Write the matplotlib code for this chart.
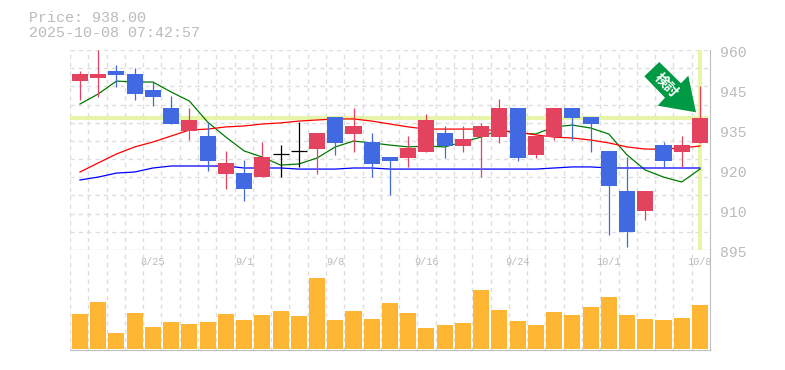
import numpy as np
import matplotlib
matplotlib.use("Agg")
import matplotlib.pyplot as plt
from matplotlib.patches import Polygon
from matplotlib.transforms import Affine2D

W, H = 785, 370
PRICE_TOP, PRICE_BOT = 960, 895

dates = ["8/25", "9/1", "9/8", "9/16", "9/24", "10/1", "10/8"]
date_idx = [4, 9, 14, 19, 24, 29, 34]
ytick_vals = [960, 947, 934, 921, 908, 895]
ytick_labels = ["960", "945", "935", "920", "910", "895"]

opens = [949.9, 950.9, 953.2, 952.2, 947.0, 941.15, 933.7, 932.05, 919.7, 920.0, 918.7, 926.1, 927.2,
         927.8, 938.2, 932.7, 930.1, 925.2, 924.9, 926.85, 933.0, 928.8, 931.7, 931.7, 941.15, 925.9,
         931.7, 941.15, 938.2, 927.2, 914.2, 907.7, 929.1, 926.85, 929.8]
closes = [952.2, 952.2, 951.9, 945.7, 944.7, 935.95, 937.25, 923.9, 923.3, 914.8, 925.2, 926.1, 927.2,
          933.0, 929.8, 935.3, 923.0, 923.9, 928.15, 937.25, 928.8, 931.1, 935.3, 941.15, 924.9, 932.05,
          941.15, 937.9, 935.95, 915.8, 900.85, 914.2, 923.9, 929.1, 938.0]
highs = [953.2, 960.0, 955.1, 954.2, 949.6, 945.05, 941.15, 936.3, 927.2, 924.25, 930.1, 929.1, 936.6,
         933.0, 938.2, 941.15, 933.0, 925.2, 932.05, 939.2, 935.3, 935.3, 936.3, 944.1, 941.15, 932.05,
         941.15, 941.15, 938.2, 927.2, 925.2, 914.2, 930.1, 932.05, 948.3]
lows = [943.75, 944.8, 948.1, 943.75, 941.8, 935.95, 930.75, 920.7, 914.8, 910.9, 918.7, 918.7, 922.0,
        919.7, 925.9, 926.85, 918.7, 912.9, 922.0, 926.85, 924.9, 926.85, 918.7, 929.8, 923.9, 924.9,
        930.75, 930.75, 926.85, 899.9, 896.0, 904.75, 922.0, 922.0, 929.8]
volumes = [35, 47, 16, 36, 22, 27, 25, 27, 35, 29, 34, 38, 33, 71, 29, 38, 30, 46, 36, 21, 24, 26,
           59, 39, 28, 24, 37, 34, 42, 52, 34, 30, 29, 31, 44]

ma_short = [942.45, 945.7, 949.9, 949.6, 949.6, 946.35, 943.4, 936.6, 931.7, 927.2, 925.2, 922.6, 922.95,
            924.9, 928.5, 930.4, 929.8, 929.1, 928.5, 928.8, 928.5, 930.1, 931.7, 934.0, 933.0, 932.7,
            935.0, 935.6, 934.65, 932.7, 925.9, 921.0, 918.7, 917.1, 921.3]
ma_mid = [920.35, 923.3, 926.2, 928.5, 930.1, 932.05, 934.0, 934.3, 935.0, 935.3, 935.95, 936.3, 936.9,
          937.25, 937.6, 937.6, 936.9, 935.95, 935.0, 934.3, 934.3, 934.3, 934.3, 933.7, 933.35, 932.4,
          931.7, 931.4, 930.75, 929.8, 928.5, 927.8, 927.8, 928.15, 928.8]
ma_long = [917.75, 918.7, 920.0, 920.35, 921.65, 922.3, 922.3, 922.3, 922.3, 921.65, 921.65, 921.65, 921.3,
           921.3, 921.3, 921.65, 921.65, 921.3, 921.3, 921.3, 921.3, 921.3, 921.3, 921.3, 921.3, 921.3,
           921.65, 922.0, 922.0, 921.65, 921.65, 921.65, 921.65, 921.65, 921.65]

RED = "#E4435F"
BLUE = "#4169E1"
GRID = "#DDDDDD"
AXIS = "#BEBEBE"
TEXT = "#BBBBBB"
MARK = "#E6F5A8"
MONO = "Liberation Mono"

fig = plt.figure(figsize=(W / 100, H / 100), dpi=100, facecolor="white")


def box(x0, y0, x1, y1):
    return [x0 / W, 1 - y1 / H, (x1 - x0) / W, (y1 - y0) / H]


ax = fig.add_axes(box(70, 50, 710, 250))
vax = fig.add_axes(box(70, 250, 710, 350))

xmin, xmax = -0.548, 34.55
xs = np.arange(len(opens))
grid_x = np.linspace(xmin, xmax, 36)

for a in (ax, vax):
    a.set_xlim(xmin, xmax)
    a.set_xticks(grid_x[:-1])
    a.tick_params(length=0, labelbottom=False, labelleft=False)
    a.grid(axis="x", color=GRID, lw=1, ls=(0, (3, 3)))
    a.set_axisbelow(True)
    for s in a.spines.values():
        s.set_visible(False)
    a.spines["right"].set_visible(True)
    a.spines["right"].set_color(AXIS)
    a.spines["bottom"].set_visible(True)
    a.spines["bottom"].set_color(AXIS)

ax.set_ylim(PRICE_BOT, PRICE_TOP)
ax.set_yticks(np.linspace(PRICE_BOT, PRICE_TOP, 12))
ax.grid(axis="y", color=GRID, lw=1, ls=(0, (3, 3)))

# current price cross
ax.plot([xmin, xs[-1] + 0.45], [938, 938], color=MARK, lw=3, zorder=1, solid_capstyle="butt")
ax.axvline(xs[-1], ymin=0.005, ymax=0.995, color=MARK, lw=3, zorder=1)

ax.plot(xs, ma_short, color="#007A00", lw=0.9, zorder=2)
ax.plot(xs, ma_mid, color="#FF0000", lw=0.9, zorder=2)
ax.plot(xs, ma_long, color="#0000FF", lw=0.9, zorder=2)

for i in xs:
    o, c = opens[i], closes[i]
    col = RED if c > o else BLUE
    if o == c:
        col = "black"
    ax.plot([i, i], [lows[i], highs[i]], color=col, lw=0.9, zorder=3, solid_capstyle="butt")
    if o == c:
        ax.plot([i - 0.44, i + 0.44], [o, o], color=col, lw=0.9, zorder=3, solid_capstyle="butt")
    else:
        ax.bar(i, abs(c - o), bottom=min(o, c), width=0.88, color=col, lw=0, zorder=3)

vax.set_ylim(-1.5, 98.5)
vax.bar(xs, volumes, width=0.88, color="#FFB733", lw=0, zorder=2)

for d, i in zip(dates, date_idx):
    vax.annotate(d, (i, 1), xycoords=("data", "axes fraction"), xytext=(0, -12), textcoords="offset pixels",
                 ha="center", va="center", color=TEXT, fontsize=7.4, family=MONO, zorder=1)

for v, lab in zip(ytick_vals, ytick_labels):
    ax.annotate(lab, (1, v), xycoords=("axes fraction", "data"), xytext=(10, -3), textcoords="offset pixels",
                ha="left", va="center", color=TEXT, fontsize=10.6, family=MONO, annotation_clip=False)

fig.text(29 / W, 1 - 18 / H, "Price: 938.00", color=TEXT, fontsize=10.8, family=MONO, va="center")
fig.text(29 / W, 1 - 33 / H, "2025-10-08 07:42:57", color=TEXT, fontsize=10.8, family=MONO, va="center")

# arrow pointing down-right, in pixels relative to the tip
arrow = Polygon([(-36.7, -50.3), (-51.7, -36), (-31, -14.6), (-38.3, -6.6), (0, 0), (-7.7, -36.6), (-15, -29)],
                closed=True, fc="#009944", ec="none", zorder=5,
                transform=Affine2D().scale(1, -1).translate(696, H - 112.3))
fig.add_artist(arrow)
fig.text(666 / W, 1 - 85 / H, "検討", color="white", fontsize=10, fontweight="bold", rotation=-46,
         ha="center", va="center", family=["Noto Sans CJK JP", "DejaVu Sans"], zorder=6)

fig.savefig("out.png", dpi=100)
